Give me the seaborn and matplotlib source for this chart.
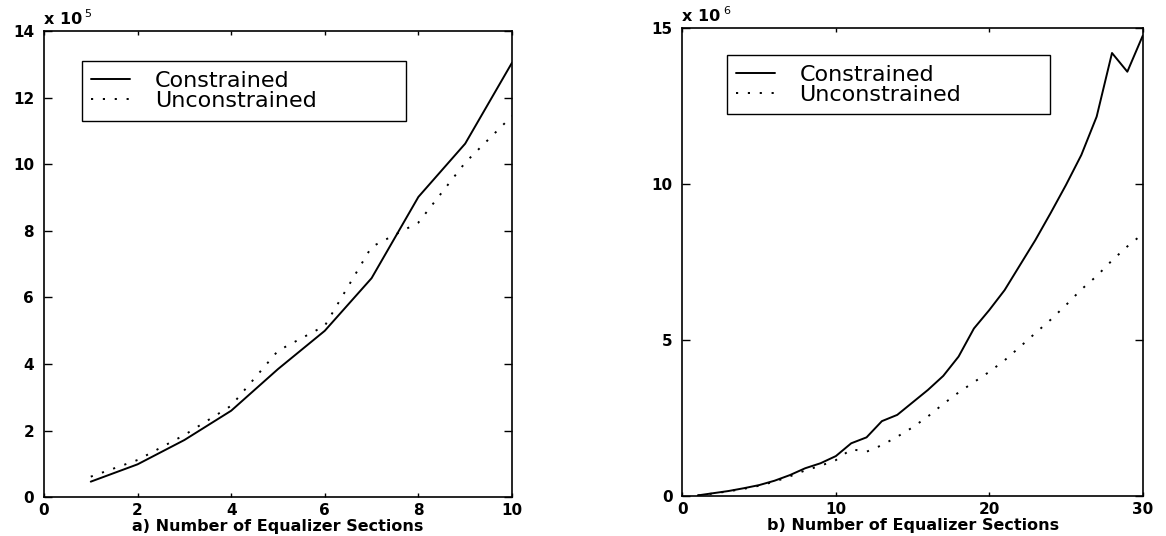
import matplotlib
matplotlib.use("Agg")
import matplotlib.pyplot as plt
import pandas as pd
import seaborn as sns

# Panel a: cost vs. number of equalizer sections (values in units of 1e5)
sections_a = list(range(1, 11))
constrained_a = [0.47, 0.99, 1.72, 2.60, 3.85, 5.00, 6.58, 9.02, 10.62, 13.05]
unconstrained_a = [0.62, 1.12, 1.87, 2.75, 4.40, 5.15, 7.52, 8.25, 10.05, 11.45]

# Panel b: cost vs. number of equalizer sections (values in units of 1e6)
sections_b = list(range(1, 31))
constrained_b = [0.02, 0.09, 0.16, 0.25, 0.35, 0.49, 0.67, 0.89, 1.05, 1.28,
                 1.69, 1.88, 2.40, 2.60, 3.00, 3.40, 3.85, 4.47, 5.37, 5.96,
                 6.60, 7.40, 8.20, 9.07, 9.97, 10.93, 12.16, 14.20, 13.60, 14.75]
unconstrained_b = [0.02, 0.08, 0.15, 0.23, 0.33, 0.46, 0.63, 0.82, 0.97, 1.15,
                   1.50, 1.42, 1.63, 1.90, 2.20, 2.55, 2.95, 3.32, 3.65, 3.98,
                   4.35, 4.78, 5.22, 5.65, 6.12, 6.62, 7.05, 7.55, 8.00, 8.40]

xticks_a = [0, 2, 4, 6, 8, 10]
yticks_a = [0, 2, 4, 6, 8, 10, 12, 14]
xticks_b = [0, 10, 20, 30]
yticks_b = [0, 5, 10, 15]

series_labels = ["Constrained", "Unconstrained"]
xlabel_a = "a) Number of Equalizer Sections"
xlabel_b = "b) Number of Equalizer Sections"
exponent_a = "5"
exponent_b = "6"

sns.set_theme(style="ticks")
plt.rcParams["font.family"] = ["DejaVu Sans"]
plt.rcParams.update({
    "axes.edgecolor": "black",
    "axes.linewidth": 1.2,
    "xtick.direction": "in",
    "ytick.direction": "in",
    "xtick.top": True,
    "ytick.right": True,
    "xtick.color": "black",
    "ytick.color": "black",
    "text.color": "black",
    "axes.labelcolor": "black",
})

fig = plt.figure(figsize=(11.66, 5.36), dpi=100)
fig.patch.set_facecolor("white")
ax_a = fig.add_axes([0.0377, 0.0722, 0.4014, 0.8698])
ax_b = fig.add_axes([0.5853, 0.0746, 0.3947, 0.8731])

dotted = (0, (1.1, 5.0))


def draw_panel(ax, x, cons, uncons, xticks, yticks, xlabel, exponent, legend_box):
    df = pd.DataFrame({"x": x, "Constrained": cons, "Unconstrained": uncons})
    sns.lineplot(data=df, x="x", y="Constrained", ax=ax, color="black",
                 linewidth=1.4, label=series_labels[0])
    sns.lineplot(data=df, x="x", y="Unconstrained", ax=ax, color="black",
                 linewidth=1.4, linestyle=dotted, label=series_labels[1])
    ax.set_xlim(xticks[0], xticks[-1])
    ax.set_ylim(yticks[0], yticks[-1])
    ax.set_xticks(xticks)
    ax.set_yticks(yticks)
    ax.set_xticklabels([str(t) for t in xticks], fontsize=11, fontweight="bold")
    ax.set_yticklabels([str(t) for t in yticks], fontsize=11, fontweight="bold")
    ax.tick_params(axis="x", which="both", length=3, width=1.0, pad=4)
    ax.tick_params(axis="y", which="both", length=5.5, width=1.0, pad=7)
    ax.set_xlabel(xlabel, fontsize=11.5, fontweight="bold", labelpad=1)
    ax.set_ylabel("")
    for s in ax.spines.values():
        s.set_visible(True)
        s.set_color("black")

    leg = ax.legend(loc="upper left", bbox_to_anchor=legend_box, mode="expand",
                    borderaxespad=0, frameon=True, fancybox=False,
                    edgecolor="black", framealpha=1, borderpad=0.43,
                    handlelength=1.75, handletextpad=1.1, labelspacing=0.0,
                    prop={"family": "DejaVu Sans", "size": 16})
    leg.get_frame().set_linewidth(1.0)

    t1 = ax.annotate("x 10", xy=(0, 1), xycoords="axes fraction",
                     xytext=(0, 5), textcoords="offset points",
                     ha="left", va="baseline", fontsize=11.5, fontweight="bold")
    ax.annotate(exponent, xy=(1, 1), xycoords=t1, xytext=(1.5, 2),
                textcoords="offset points", ha="left", va="top", fontsize=8)


draw_panel(ax_a, sections_a, constrained_a, unconstrained_a, xticks_a, yticks_a,
           xlabel_a, exponent_a, (0.081, 0.0, 0.692, 0.935))
draw_panel(ax_b, sections_b, constrained_b, unconstrained_b, xticks_b, yticks_b,
           xlabel_b, exponent_b, (0.096, 0.0, 0.703, 0.942))

fig.savefig("out.png", dpi=100, facecolor="white")
